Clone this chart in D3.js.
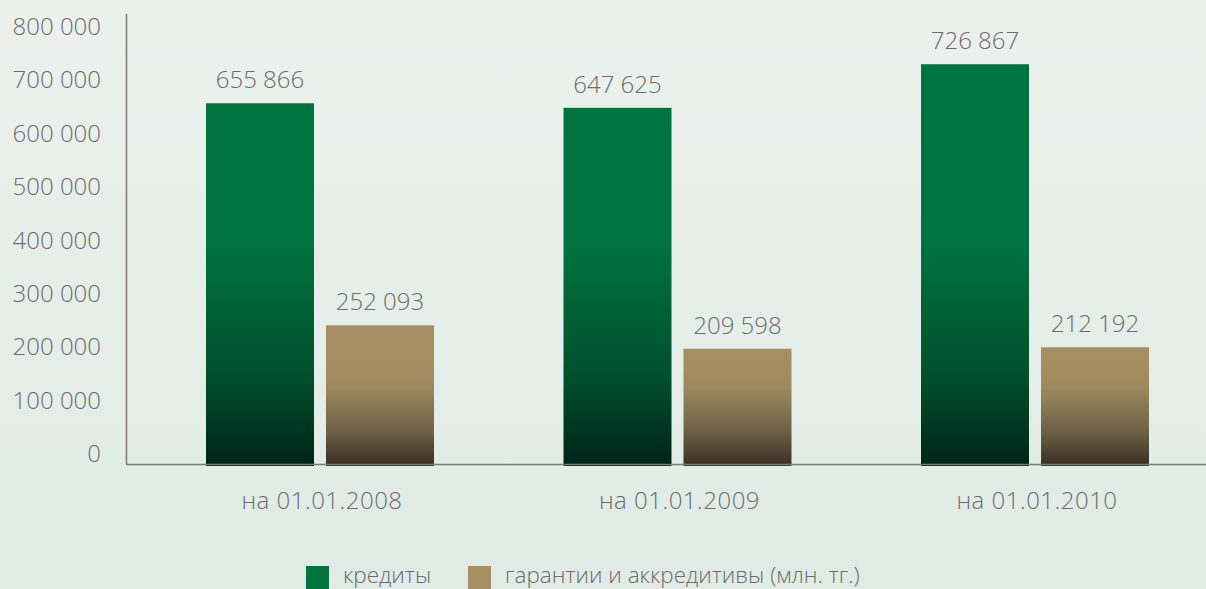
<!DOCTYPE html>
<html><head><meta charset="utf-8">
<script src="https://cdn.jsdelivr.net/npm/d3@7"></script>
<style>
html,body{margin:0;padding:0;overflow:hidden;}
svg{display:block;}
text{font-family:"Open Sans",sans-serif;font-weight:300;fill:#6c6c6c;}
</style></head>
<body>
<script>
const categories = ["на 01.01.2008", "на 01.01.2009", "на 01.01.2010"];
const seriesNames = ["кредиты", "гарантии и аккредитивы (млн. тг.)"];
const credits = [655866, 647625, 726867];
const guarantees = [252093, 209598, 212192];
const yTicks = [0, 100000, 200000, 300000, 400000, 500000, 600000, 700000, 800000];

const W = 1206, H = 589;
const svg = d3.select("body").append("svg").attr("width", W).attr("height", H);
const defs = svg.append("defs");

const bg = defs.append("linearGradient").attr("id","bg").attr("x1",0).attr("y1",0).attr("x2",0).attr("y2",1);
bg.append("stop").attr("offset",0).attr("stop-color","#ecf1ee");
bg.append("stop").attr("offset",1).attr("stop-color","#e0ebe5");
svg.append("rect").attr("width",W).attr("height",H).attr("fill","url(#bg)");

const gGreen = defs.append("linearGradient").attr("id","gGreen").attr("gradientUnits","userSpaceOnUse")
  .attr("x1",0).attr("x2",0).attr("y1",240).attr("y2",466);
gGreen.append("stop").attr("offset",0).attr("stop-color","#00743f");
gGreen.append("stop").attr("offset",0.6).attr("stop-color","#00502d");
gGreen.append("stop").attr("offset",1).attr("stop-color","#00241a");

const gTan = defs.append("linearGradient").attr("id","gTan").attr("gradientUnits","userSpaceOnUse")
  .attr("x1",0).attr("x2",0).attr("y1",362).attr("y2",466);
gTan.append("stop").attr("offset",0).attr("stop-color","#a58f62");
gTan.append("stop").attr("offset",0.25).attr("stop-color","#9d895e");
gTan.append("stop").attr("offset",0.65).attr("stop-color","#6f6247");
gTan.append("stop").attr("offset",1).attr("stop-color","#383024");

const fills = ["url(#gGreen)", "url(#gTan)"];
const legendFills = ["#00733e", "#a58f62"];

const y = d3.scaleLinear().domain([0, 800000]).range([464, 24]);
const yLab = d3.scaleLinear().domain([0, 800000]).range([462, 35]);
const x0 = d3.scalePoint().domain(categories).range([320, 1035]);
const x1 = d3.scaleBand().domain(seriesNames).range([-114, 114]).paddingInner(0.1);

const loc = d3.formatLocale({decimal:",", thousands:" ", grouping:[3], currency:["",""]});
const fmt = loc.format(",d");

// y tick labels
svg.append("g").selectAll("text").data(yTicks).join("text")
  .attr("x", 101).attr("y", d => yLab(d))
  .attr("text-anchor","end").attr("font-size",24)
  .text(d => fmt(d));

// bars
const data = categories.map((c,i) => ({cat:c, vals:[credits[i], guarantees[i]]}));
const groups = svg.append("g").selectAll("g").data(data).join("g")
  .attr("transform", d => `translate(${x0(d.cat)},0)`);
groups.selectAll("rect").data(d => d.vals.map((v,j)=>({v, s:seriesNames[j], j}))).join("rect")
  .attr("x", d => x1(d.s)).attr("width", x1.bandwidth())
  .attr("y", d => y(d.v)).attr("height", d => y(0) - y(d.v) + 2)
  .attr("fill", d => fills[d.j]);
groups.selectAll("text.val").data(d => d.vals.map((v,j)=>({v, s:seriesNames[j]}))).join("text")
  .attr("class","val")
  .attr("x", d => x1(d.s) + x1.bandwidth()/2).attr("y", d => y(d.v) - 15)
  .attr("text-anchor","middle").attr("font-size",24)
  .text(d => fmt(d.v));

// axes lines
svg.append("line").attr("x1",126.5).attr("x2",126.5).attr("y1",14).attr("y2",y(0))
  .attr("stroke","#7a7a7a").attr("stroke-width",1.5);
svg.append("line").attr("x1",126).attr("x2",W).attr("y1",y(0)+0.5).attr("y2",y(0)+0.5)
  .attr("stroke","#7a7a7a").attr("stroke-width",1.5);

// category labels
svg.append("g").selectAll("text").data(categories).join("text")
  .attr("x", d => x0(d) + 2).attr("y", 509)
  .attr("text-anchor","middle").attr("font-size",24).attr("letter-spacing","0.5px")
  .text(d => d);

// legend
const legX = [306, 468];
const leg = svg.append("g").selectAll("g").data(seriesNames).join("g")
  .attr("transform", (d,i) => `translate(${legX[i]},0)`);
leg.append("rect").attr("x",0).attr("y",566).attr("width",23).attr("height",23)
  .attr("fill", (d,i) => legendFills[i]);
leg.append("text").attr("x",37).attr("y",583).attr("font-size",22.5)
  .text(d => d);
</script>
</body></html>
